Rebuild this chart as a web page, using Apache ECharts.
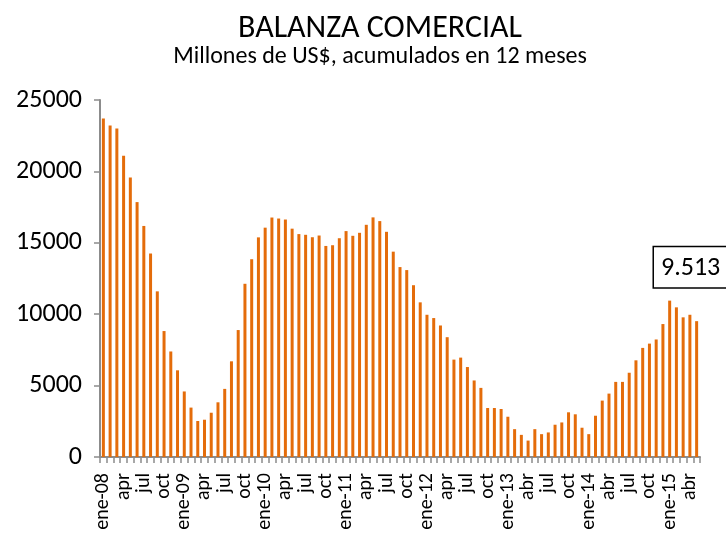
<!DOCTYPE html>
<html>
<head>
<meta charset="utf-8">
<script src="https://cdn.jsdelivr.net/npm/echarts@6/dist/echarts.min.js"></script>
<style>
  html, body { margin: 0; padding: 0; background: #fff; }
  #chart { width: 726px; height: 546px; }
</style>
</head>
<body>
<div id="chart"></div>
<script>
// meses ene-08 .. may-15
const monthNames = ['ene', 'feb', 'mar', 'apr', 'may', 'jun', 'jul', 'ago', 'sep', 'oct', 'nov', 'dic'];
const years = ['08', '09', '10', '11', '12', '13', '14', '15'];

// etiquetas visibles (cada 3 meses)
const tickLabels = [
  'ene-08', 'apr', 'jul', 'oct',
  'ene-09', 'apr', 'jul', 'oct',
  'ene-10', 'apr', 'jul', 'oct',
  'ene-11', 'apr', 'jul', 'oct',
  'ene-12', 'apr', 'jul', 'oct',
  'ene-13', 'abr', 'jul', 'oct',
  'ene-14', 'abr', 'jul', 'oct',
  'ene-15', 'abr'
];

// balanza comercial, millones de US$, acumulado 12 meses
const balanza = [
  23710, 23210, 23000, 21100, 19570, 17850, 16180, 14250, 11600, 8820, 7390, 6070,
  4590, 3460, 2520, 2610, 3100, 3830, 4770, 6700, 8890, 12130, 13850, 15380,
  16060, 16770, 16700, 16630, 15990, 15610, 15560, 15390, 15510, 14780, 14830, 15320,
  15820, 15490, 15700, 16260, 16780, 16520, 15770, 14380, 13300, 13090, 12030, 10830,
  9960, 9730, 9210, 8390, 6820, 6960, 6300, 5360, 4840, 3430, 3430, 3360,
  2820, 1950, 1550, 1150, 1950, 1600, 1720, 2260, 2420, 3130, 2990, 2050,
  1600, 2890, 3950, 4440, 5260, 5260, 5900, 6770, 7640, 7940, 8230, 9310,
  10950, 10480, 9780, 9960, 9513
];

const yTicks = [0, 5000, 10000, 15000, 20000, 25000];

const categories = [];
years.forEach(y => monthNames.forEach(m => categories.push(m + '-' + y)));
categories.length = balanza.length;

const font = 'Calibri, Carlito, "Open Sans", sans-serif';
const fmt = v => String(v).replace(/\B(?=(\d{3})+(?!\d))/g, '.');

const lastIdx = balanza.length - 1;
const barData = balanza.map((v, i) => i === lastIdx ? {
  value: v,
  label: {
    show: true,
    position: 'top',
    distance: 34,
    offset: [-6, 0],
    formatter: p => fmt(p.value),
    color: '#000',
    fontFamily: font,
    fontSize: 26,
    lineHeight: 30,
    borderColor: '#000',
    borderWidth: 1.5,
    padding: [6, 7, 4, 7],
    backgroundColor: '#fff'
  }
} : v);

const chart = echarts.init(document.getElementById('chart'));
chart.setOption({
  animation: false,
  title: {
    text: 'BALANZA COMERCIAL',
    subtext: 'Millones de US$, acumulados en 12 meses',
    left: 375,
    textAlign: 'center',
    top: 8,
    itemGap: 0,
    textStyle: { fontFamily: font, fontWeight: 'normal', fontSize: 32, color: '#000' },
    subtextStyle: { fontFamily: font, fontSize: 24, color: '#000' }
  },
  grid: { left: 100, right: 26, top: 100, bottom: 89 },
  xAxis: {
    type: 'category',
    data: categories,
    axisLine: { lineStyle: { color: '#8c8c8c', width: 2 } },
    axisTick: { show: true, interval: 0, length: 6, lineStyle: { color: '#8c8c8c', width: 1.5 } },
    axisLabel: {
      interval: 2,
      rotate: 90,
      margin: 16,
      color: '#000',
      fontFamily: font,
      fontSize: 20,
      formatter: (v, i) => tickLabels[i / 3] || ''
    }
  },
  yAxis: {
    type: 'value',
    min: yTicks[0],
    max: yTicks[yTicks.length - 1],
    interval: 5000,
    splitLine: { show: false },
    axisLine: { show: true, lineStyle: { color: '#8c8c8c', width: 2 } },
    axisTick: { show: true, length: 6, lineStyle: { color: '#8c8c8c', width: 1.5 } },
    axisLabel: { color: '#000', fontFamily: font, fontSize: 26, margin: 18, formatter: v => String(v) }
  },
  series: [{
    type: 'bar',
    data: barData,
    barWidth: 3,
    itemStyle: { color: '#E46C0A' }
  }]
});
</script>
</body>
</html>
